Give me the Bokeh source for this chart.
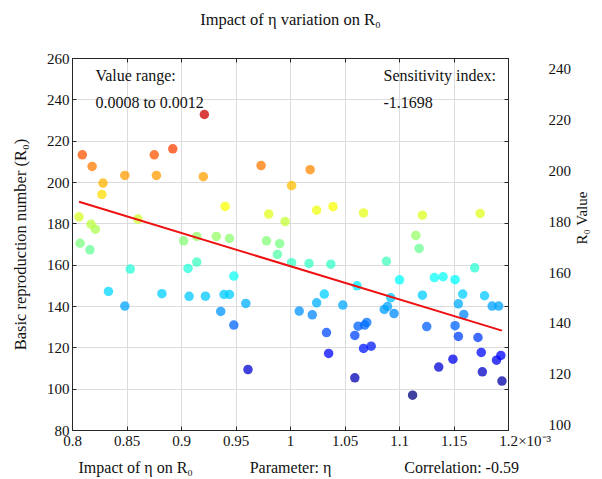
import math
import numpy as np
from bokeh.plotting import figure
from bokeh.models import (LinearAxis, Range1d, Label, ColumnDataSource, LinearColorMapper,
                          FixedTicker, AllLabels)
from bokeh.transform import transform
from bokeh.embed import file_html
from bokeh.resources import INLINE

# ---- data (eta in units of 1e-3) ----
eta = [0.809, 0.818, 0.828, 0.827, 0.848, 0.875, 0.877, 0.892, 0.921, 0.920,
       0.973, 1.001, 0.940, 0.980, 0.995, 0.806, 0.817, 0.821, 0.860, 1.018,
       1.024, 1.039, 1.067, 1.121, 1.174, 1.115, 0.807, 0.816, 0.902, 0.914,
       0.932, 0.944, 0.978, 0.990, 0.988, 1.001, 0.906, 0.914, 0.853, 0.948,
       0.833, 0.848, 0.882, 0.907, 0.922, 0.939, 0.944, 0.959, 0.936, 0.948,
       0.961, 1.017, 1.037, 1.118, 1.088, 1.100, 1.061, 1.031, 1.024, 1.008,
       1.020, 1.048, 1.033, 1.035, 1.059, 1.062, 1.068, 1.070, 1.067, 1.074,
       1.059, 1.086, 1.089, 1.092, 1.095, 1.112, 1.121, 1.125, 1.132, 1.140,
       1.136, 1.151, 1.154, 1.158, 1.159, 1.151, 1.154, 1.149, 1.169, 1.178,
       1.185, 1.191, 1.172, 1.175, 1.176, 1.189, 1.193, 1.194]
r0 = [213.4, 207.8, 199.7, 194.2, 203.4, 213.4, 203.4, 216.3, 232.9, 202.8,
      208.2, 198.5, 188.4, 184.7, 181.1, 183.4, 179.8, 177.4, 182.3, 206.2,
      186.6, 188.3, 185.3, 184.2, 185.0, 174.4, 170.6, 167.4, 171.8, 173.9,
      173.9, 172.9, 171.8, 170.4, 165.2, 161.2, 158.4, 161.5, 158.1, 154.7,
      147.3, 140.2, 146.2, 144.9, 145.0, 145.8, 145.8, 141.5, 137.6, 131.0,
      109.5, 160.8, 160.5, 168.1, 161.9, 152.9, 150.0, 146.0, 141.8, 137.8,
      136.0, 140.7, 127.4, 117.3, 126.0, 130.5, 131.0, 132.3, 119.7, 120.8,
      105.5, 138.6, 140.0, 144.2, 136.6, 97.1, 145.5, 130.3, 154.0, 154.4,
      110.7, 153.0, 141.3, 146.0, 136.1, 130.7, 125.5, 114.5, 158.7, 145.2,
      140.2, 140.2, 125.0, 117.8, 108.4, 114.0, 116.3, 103.9]
# fitted trend line: r0 = fit_intercept + fit_slope * eta
fit_slope = -160.6
fit_intercept = 320.1
x_ticks = [0.8, 0.85, 0.9, 0.95, 1.0, 1.05, 1.1, 1.15, 1.2]
x_tick_labels = ["0.8", "0.85", "0.9", "0.95", "1", "1.05", "1.1", "1.15", "1.2"]
x_exponent = "×10⁻³"
y_ticks = [80, 100, 120, 140, 160, 180, 200, 220, 240, 260]
color_ticks = [100, 120, 140, 160, 180, 200, 220, 240]
color_low, color_high = 98, 244
title_text = "Impact of η variation on R₀"
# footer texts and their horizontal centres (eta units)
footer_pos = [0.858, 1.0, 1.157]
footer_text = ["Impact of η on R₀", "Parameter: η", "Correlation: -0.59"]

FONT = "Liberation Serif"
TXT = "#111111"
AX = "#262626"
NBSP = "\u00a0"

def jet(t):
    r = np.clip(1.5 - abs(4 * t - 3), 0, 1)
    g = np.clip(1.5 - abs(4 * t - 2), 0, 1)
    b = np.clip(1.5 - abs(4 * t - 1), 0, 1)
    return "#%02x%02x%02x" % (int(r * 255), int(g * 255), int(b * 255))

palette = [jet(t) for t in np.linspace(0, 1, 256)]
mapper = LinearColorMapper(palette=palette, low=color_low, high=color_high)

p = figure(width=602, height=479, output_backend="svg", toolbar_location=None,
           x_range=Range1d(0.8, 1.2), y_range=Range1d(80, 260),
           min_border_left=72, min_border_right=94, min_border_top=58, min_border_bottom=49,
           background_fill_color="white", border_fill_color="white")
try:
    p.title = None
except Exception:
    p.title.visible = False

p.outline_line_color = AX
p.outline_line_width = 1

# main bottom axis (+ exponent label just right of the last tick)
exp_pos = x_ticks[-1] - 0.0001
ax = p.xaxis[0]
ax.ticker = FixedTicker(ticks=x_ticks + [exp_pos])
ov = {t: l for t, l in zip(x_ticks, x_tick_labels)}
ov[exp_pos] = NBSP * 14 + x_exponent
ax.major_label_overrides = ov
ax.major_label_policy = AllLabels()
ay = p.yaxis[0]
ay.ticker = FixedTicker(ticks=y_ticks)
ay.axis_label = "Basic reproduction number (R₀)"

for a in (ax, ay):
    a.major_tick_in = 4
    a.major_tick_out = 0
    a.minor_tick_line_color = None
    a.axis_line_color = AX
    a.major_tick_line_color = AX
    a.major_label_text_font = FONT
    a.major_label_text_font_size = "15px"
    a.major_label_text_color = TXT
    a.axis_label_text_font = FONT
    a.axis_label_text_font_size = "16.5px"
    a.axis_label_text_font_style = "normal"
    a.axis_label_text_color = TXT
    a.major_label_standoff = 3
ax.major_label_standoff = 2
ay.axis_label_standoff = 14

p.xgrid.ticker = FixedTicker(ticks=x_ticks)
p.ygrid.ticker = FixedTicker(ticks=y_ticks)
p.grid.grid_line_color = "#dcdcdc"
p.grid.grid_line_width = 1

# footer line of texts (second bottom axis without line or ticks)
footer = LinearAxis(ticker=FixedTicker(ticks=footer_pos),
                    major_label_overrides={t: s for t, s in zip(footer_pos, footer_text)},
                    axis_line_color=None, major_tick_line_color=None,
                    minor_tick_line_color=None, major_label_standoff=1,
                    major_label_text_font=FONT, major_label_text_font_size="16px",
                    major_label_text_color=TXT, major_label_policy=AllLabels())
p.add_layout(footer, "below")

# top axis: box ticks + title text centred over the frame
top_ov = {t: "" for t in x_ticks}
top_ov[1.0] = title_text
top = LinearAxis(ticker=FixedTicker(ticks=x_ticks), major_label_overrides=top_ov,
                 major_tick_in=4, major_tick_out=0, minor_tick_line_color=None,
                 axis_line_color=AX, major_tick_line_color=AX, major_label_standoff=30,
                 major_label_text_font=FONT, major_label_text_font_size="16.5px",
                 major_label_text_color=TXT, major_label_policy=AllLabels())
p.add_layout(top, "above")

right_ticks = LinearAxis(ticker=FixedTicker(ticks=y_ticks),
                         major_label_overrides={t: "" for t in y_ticks},
                         major_tick_in=4, major_tick_out=0, minor_tick_line_color=None,
                         axis_line_color=AX, major_tick_line_color=AX, major_label_standoff=0)
p.add_layout(right_ticks, "right")

# R0 value axis (colour scale labels)
p.extra_y_ranges = {"r0": Range1d(color_low, color_high)}
r0_axis = LinearAxis(y_range_name="r0", ticker=FixedTicker(ticks=color_ticks),
                     axis_line_color=None, major_tick_line_color=None,
                     minor_tick_line_color=None, major_label_standoff=34,
                     major_label_text_font=FONT, major_label_text_font_size="15px",
                     major_label_text_color=TXT, axis_label="R₀ Value",
                     axis_label_text_font=FONT, axis_label_text_font_size="15px",
                     axis_label_text_font_style="normal", axis_label_text_color=TXT,
                     axis_label_standoff=8)
if "axis_label_orientation" in r0_axis.properties():
    r0_axis.axis_label_orientation = math.pi / 2
p.add_layout(r0_axis, "right")

src = ColumnDataSource(dict(eta=eta, r0=r0))
p.scatter("eta", "r0", source=src, size=9.5, fill_color=transform("r0", mapper),
          line_color=None, fill_alpha=0.75)

fx = np.array([min(eta), max(eta)])
p.line(fx, fit_intercept + fit_slope * fx, line_color="#ee1111", line_width=2)

def lab(x, y, text, size="16px"):
    p.add_layout(Label(x=x, y=y, text=text, text_font=FONT, text_font_size=size,
                       text_align="left", text_baseline="middle", text_color=TXT))

lab(0.821, 251.8, "Value range:")
lab(0.821, 238.7, "0.0008 to 0.0012")
lab(1.0853, 251.8, "Sensitivity index:")
lab(1.0853, 238.7, "-1.1698")

open("out.html", "w").write(file_html(p, INLINE))
